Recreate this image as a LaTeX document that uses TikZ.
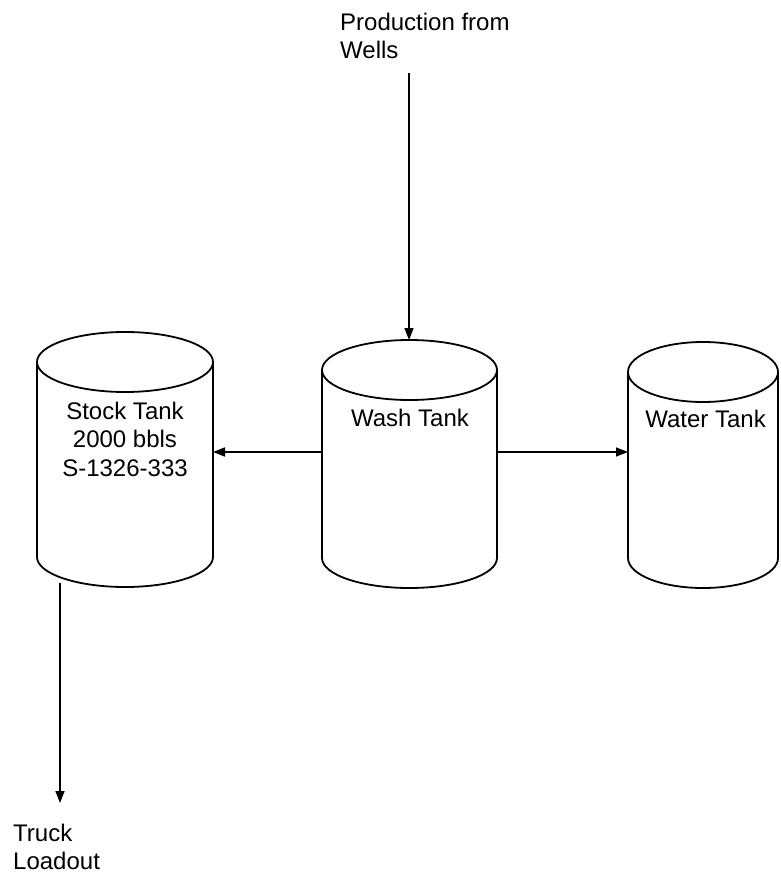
\documentclass[tikz,border=0pt]{standalone}
\usepackage{fontspec}
\setmainfont{Liberation Sans}
\usetikzlibrary{arrows.meta}
\newcommand{\drawtank}[5]{% cx, top cy, bottom cy, rx, ry
  \draw[tankline] (#1,#2) ellipse [x radius=#4pt, y radius=#5pt];
  \draw[tankline] ({#1-#4},#2) -- ({#1-#4},#3)
    arc[start angle=180, end angle=360, x radius=#4pt, y radius=#5pt]
    -- ({#1+#4},#2);
}
\begin{document}
\begin{tikzpicture}[x=1pt,y=-1pt,
  tankline/.style={line width=1.8pt, line join=round},
  flow/.style={line width=1.5pt, -{Triangle[length=12pt,width=9pt]}},
  lbl/.style={inner sep=0pt, font=\fontsize{24}{28.5}\selectfont},
]
\useasboundingbox[fill=white] (0,0) rectangle (780,874);

% tanks
\drawtank{125}{362}{557}{88}{30}
\drawtank{409.5}{370}{558}{87.5}{30}
\drawtank{703}{372}{558}{75}{30}

% named tank bodies
\node[inner sep=0pt, minimum width=176pt, minimum height=195pt] (stock) at (125,459.5) {};
\node[inner sep=0pt, minimum width=175pt, minimum height=188pt] (wash) at (409.5,464) {};
\node[inner sep=0pt, minimum width=150pt, minimum height=186pt] (water) at (703,465) {};

% labels
\node[lbl, align=center, anchor=north] (stocktxt) at (125,401.5) {Stock Tank\\2000 bbls\\S-1326-333};
\node[lbl, anchor=north] (washtxt) at (410,408.5) {Wash Tank};
\node[lbl, anchor=north] (watertxt) at (705.5,409.5) {Water Tank};
\node[lbl, align=left, anchor=north west] (prod) at (340,12.5) {Production from\\Wells};
\node[lbl, align=left, anchor=north west] (truck) at (13,823.5) {Truck\\Loadout};

% connector end points
\coordinate (prodEnd) at (409,73);
\coordinate (washTop) at (409,340);
\coordinate (washW) at (322,452);
\coordinate (stockE) at (213,452);
\coordinate (washE) at (497,452);
\coordinate (waterW) at (628,452);
\coordinate (stockOut) at (60,583);
\coordinate (truckIn) at (60,803);

% connectors
\draw[flow] (prodEnd) -- (washTop);
\draw[flow] (washW) -- (stockE);
\draw[flow] (washE) -- (waterW);
\draw[flow] (stockOut) -- (truckIn);
\end{tikzpicture}
\end{document}
